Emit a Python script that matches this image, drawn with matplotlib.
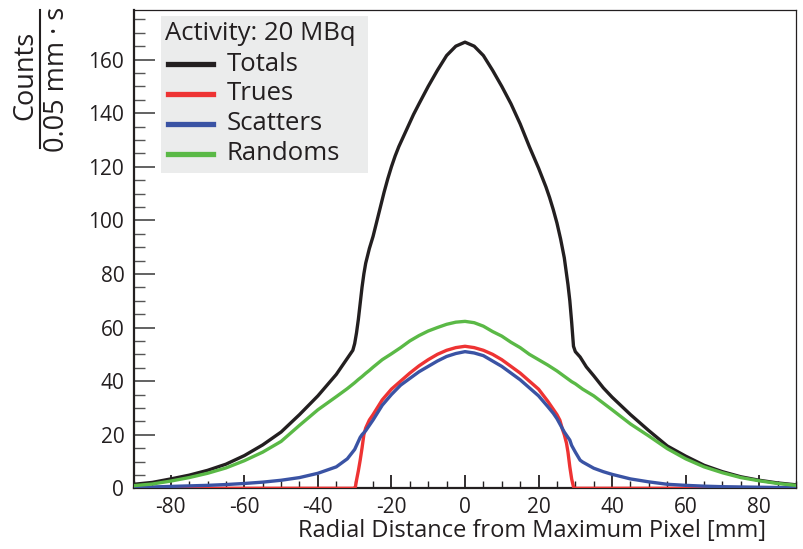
import matplotlib
matplotlib.use("Agg")
import matplotlib.pyplot as plt
from matplotlib.lines import Line2D
from matplotlib.patches import Rectangle
from matplotlib.ticker import MultipleLocator

plt.rcParams['font.family'] = ['Open Sans', 'DejaVu Sans']

# Radial profiles (counts per 0.05 mm per second) at 20 MBq
totals_x = [-90, -85, -80, -75, -70, -65, -60, -55, -50, -45, -40, -35, -32, -30.5, -30,
            -29.5, -29, -28.5, -28, -27.5, -27, -26, -25, -24, -23, -22, -21, -20, -19, -18,
            -17, -16, -15, -14, -12.5, -10, -7.5, -5, -2.5, 0, 2.5, 5, 7.5, 10, 12.5, 15,
            17.5, 20, 21, 22, 23, 24, 25, 26, 27, 27.5, 28, 28.5, 29, 29.5, 30, 31.3, 33, 35,
            37.6, 40, 45, 50, 55, 60, 65, 70, 75, 80, 85, 90]
totals_y = [1.5, 2.2, 3.5, 4.9, 6.7, 9.0, 12.2, 16.2, 21.0, 27.5, 34.5, 42.5, 48.5, 51.5, 54,
            58, 63, 69, 75, 80, 84, 89.5, 94, 99.5, 105, 110.5, 115.5, 120, 124, 127.5,
            130.5, 133.5, 136.5, 139.5, 143.5, 150, 156, 161.5, 165, 166.5, 165, 161.5, 156, 150, 143.5, 136,
            127.5, 119.5, 116, 112.5, 108.5, 104, 99, 93, 86, 81, 76, 70, 62, 53, 51, 49, 45.3, 42,
            37.5, 34, 27.5, 21.5, 15.8, 12, 8.6, 6.2, 4.3, 3.0, 2.0, 1.3]

trues_x = [-90, -30, -29.8, -29.5, -29, -28.5, -28, -27.5, -27, -26, -25, -22.5, -20, -17.5,
           -15, -12.5, -10, -7.5, -5, -2.5, 0, 2.5, 5, 7.5, 10, 12.5, 15, 17.5, 20, 22.5, 24,
           25, 25.8, 26.5, 27, 27.6, 28, 28.5, 29, 29.5, 30, 90]
trues_y = [0, 0, 0.5, 3, 6.5, 10.5, 15, 20, 22.5, 25.5, 27.5, 33, 37, 40,
           43, 45.7, 48, 50, 51.5, 52.5, 53, 52.5, 51.5, 50, 48, 45.5, 43, 40, 37, 32.5, 29.5,
           27.5, 25.4, 22, 20, 16.8, 13.5, 8, 3.5, 0.5, 0, 0]

scatters_x = [-90, -85, -80, -75, -70, -65, -60, -55, -50, -45, -40, -35, -32, -30, -29.5,
              -29, -28.5, -28, -27, -26, -25, -22.5, -20, -17.5, -15, -12.5, -10, -7.5, -5,
              -2.5, 0, 2.5, 5, 7.5, 10, 12.5, 15, 17.5, 20, 22.5, 24, 25, 26, 27, 28, 28.5, 29,
              30, 31.3, 32, 35, 37.6, 40, 45, 50, 55, 60, 65, 70, 75, 80, 85, 90]
scatters_y = [0.3, 0.5, 0.7, 0.9, 1.1, 1.4, 1.8, 2.3, 3.0, 4.0, 5.6, 8.0, 11, 14.5, 16,
              17.5, 19, 20, 21.5, 23.5, 25.5, 31, 35, 38.5, 41, 43.5, 45.5, 47.5, 49.2,
              50.3, 51, 50.5, 49.5, 47.5, 45.5, 43, 40.5, 37.5, 34.5, 30.5, 28, 26, 23.5, 21, 19, 18, 16,
              13.5, 10.5, 9.8, 7.5, 6.2, 5.2, 3.5, 2.4, 1.5, 1.1, 0.8, 0.6, 0.5, 0.4, 0.3, 0.2]

randoms_x = [-90, -85, -80, -75, -70, -65, -60, -55, -50, -45, -40, -35, -32, -30, -29, -28,
             -27, -26, -25, -22.5, -20, -17.5, -15, -12.5, -10, -7.5, -5, -2.5, 0, 2.5, 5,
             7.5, 10, 12.5, 15, 17.5, 20, 22.5, 25, 27, 28, 29, 30, 32, 35, 40, 45, 50, 55, 60,
             65, 70, 75, 80, 85, 90]
randoms_y = [1.0, 1.6, 2.7, 4.0, 5.6, 7.6, 10.3, 13.5, 17.5, 23.5, 29.3, 34.2, 37.2, 39.4, 40.6, 41.7,
             42.9, 44, 45.2, 48, 50.2, 52.5, 55, 57, 58.7, 60, 61.2, 62, 62.3, 61.8, 60.5,
             58.5, 56.8, 54.5, 52.5, 50, 48, 46, 43.8, 41.8, 40.8, 39.8, 39, 37, 34.5, 29.3, 24, 19.5, 14.8, 11,
             8, 5.8, 4.0, 2.8, 1.8, 1.1]

series = [
    ("Totals", totals_x, totals_y, "#231f20"),
    ("Trues", trues_x, trues_y, "#ee3333"),
    ("Scatters", scatters_x, scatters_y, "#3a53a4"),
    ("Randoms", randoms_x, randoms_y, "#5ab946"),
]

x_major = [-80, -60, -40, -20, 0, 20, 40, 60, 80]
y_major = [0, 20, 40, 60, 80, 100, 120, 140, 160]

W, H = 804, 549
fig = plt.figure(figsize=(W / 100, H / 100), dpi=100)
ax = fig.add_axes([134 / W, 1 - 488.3 / H, (796 - 134) / W, (488.3 - 10) / H])

for i, (name, xs, ys, col) in enumerate(series):
    ax.plot(xs, ys, color=col, lw=2.4, solid_joinstyle='round', zorder=2 + i)

ax.set_xlim(-90, 90)
ax.set_ylim(0, 178.5)

ink = "#231f20"
ax.set_xticks(x_major)
ax.set_xticklabels([str(v) for v in x_major])
ax.set_yticks(y_major)
ax.set_yticklabels([str(v) for v in y_major])
ax.xaxis.set_minor_locator(MultipleLocator(5))
ax.yaxis.set_minor_locator(MultipleLocator(5))
ax.tick_params(axis='x', which='major', direction='in', length=9.5, width=1.3,
               color=ink, labelsize=15, labelcolor=ink, pad=6)
ax.tick_params(axis='x', which='minor', direction='in', length=5, width=1.0, color=ink)
ax.tick_params(axis='y', which='major', direction='in', length=15, width=1.3,
               color="#555555", labelsize=15, labelcolor=ink, pad=7)
ax.tick_params(axis='y', which='minor', direction='in', length=8, width=1.0, color="#555555")

for side in ('left', 'bottom'):
    ax.spines[side].set_linewidth(1.6)
    ax.spines[side].set_color(ink)
for side in ('top', 'right'):
    ax.spines[side].set_linewidth(0.9)
    ax.spines[side].set_color(ink)

# x-axis title, right-aligned as in ROOT
fig.text(766 / W, 1 - 531 / H, "Radial Distance from Maximum Pixel [mm]",
         ha='right', va='center', fontsize=17, color=ink)

# y-axis title drawn as a fraction
fig.text(25 / W, 1 - 75 / H, "Counts", rotation=90, ha='center', va='center',
         fontsize=19.5, color=ink)
fig.text(57 / W, 1 - 79 / H, "0.05 mm \u00b7 s", rotation=90, ha='center', va='center',
         fontsize=19.5, color=ink)
fig.add_artist(Line2D([40 / W, 40 / W], [1 - 10 / H, 1 - 148 / H], color=ink, lw=1.5,
                      transform=fig.transFigure))

# legend panel
fig.add_artist(Rectangle((161 / W, 1 - 173 / H), (368 - 161) / W, (173 - 16) / H,
                         transform=fig.transFigure, facecolor="#ebecec", edgecolor='none',
                         zorder=10))
fig.text(165 / W, 1 - 33 / H, "Activity: 20 MBq", ha='left', va='center',
         fontsize=18.5, color=ink, zorder=11)
for k, (name, xs, ys, col) in enumerate(series):
    yc = 1 - [64, 94, 124, 154][k] / H
    fig.add_artist(Line2D([168 / W, 213 / W], [yc, yc], color=col, lw=3.8,
                          transform=fig.transFigure, zorder=11))
    fig.text(227 / W, yc, name, ha='left', va='center', fontsize=18.5, color=ink, zorder=11)

fig.savefig("out.png", dpi=100)
